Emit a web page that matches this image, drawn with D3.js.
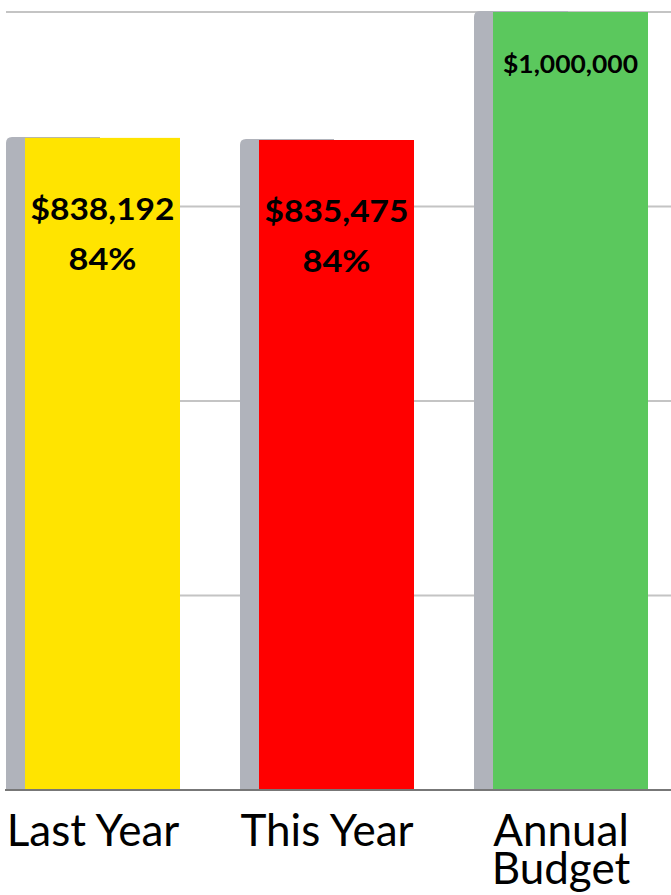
<!DOCTYPE html>
<html>
<head>
<meta charset="utf-8">
<script src="https://cdn.jsdelivr.net/npm/d3@7"></script>
<style>
html,body{margin:0;padding:0;background:#fff;}
svg{display:block;}
</style>
</head>
<body>
<svg id="chart" width="671" height="895"></svg>
<script>
const categories = ["Last Year", "This Year", "Annual Budget"];
const labelLines = [["Last Year"], ["This Year"], ["Annual", "Budget"]];
const values = [838192, 835475, 1000000];
const valueLabels = ["$838,192", "$835,475", "$1,000,000"];
const pctLabels = ["84%", "84%", ""];
const colors = ["#FFE400", "#FF0000", "#5BC85D"];
const yTicks = [0, 250000, 500000, 750000, 1000000];

const svg = d3.select("#chart");
const W = 671;

const x = d3.scaleBand().domain(categories).range([6, 648]).paddingInner(0.2564).paddingOuter(0);
const y = d3.scaleLinear().domain([0, 1000000]).range([790, 12]);

// gridlines
svg.append("g").selectAll("line").data(yTicks.filter(d => d > 0)).join("line")
  .attr("x1", 6).attr("x2", W)
  .attr("y1", d => y(d)).attr("y2", d => y(d))
  .attr("stroke", "#c4c4c4").attr("stroke-width", 2);

const shadowW = 19;
const g = svg.append("g");
categories.forEach((c, i) => {
  const x0 = x(c), bw = x.bandwidth();
  const top = y(values[i]) - 1, bot = y(0);
  const r = 6, sw = 94;
  g.append("path")
    .attr("d", `M${x0},${bot} V${top + r} Q${x0},${top} ${x0 + r},${top} H${x0 + sw} V${bot} Z`)
    .attr("fill", "#B0B3BB");
  g.append("rect")
    .attr("x", x0 + shadowW).attr("y", y(values[i]))
    .attr("width", bw - shadowW).attr("height", y(0) - y(values[i]))
    .attr("fill", colors[i]);
});

// baseline
svg.append("line").attr("x1", 5).attr("x2", W).attr("y1", y(0)).attr("y2", y(0))
  .attr("stroke", "#777").attr("stroke-width", 2);

// value labels
categories.forEach((c, i) => {
  const cx = x(c) + shadowW + (x.bandwidth() - shadowW) / 2;
  const top = y(values[i]);
  const big = pctLabels[i] !== "";
  const t = svg.append("text")
    .attr("text-anchor", "middle")
    .attr("font-family", "Lato, sans-serif").attr("font-weight", "bold")
    .attr("font-size", big ? 30 : 24)
    .attr("fill", "#000");
  t.append("tspan").attr("x", cx).attr("y", top + (big ? 82 : 61))
    .attr("textLength", big ? 144 : 135).attr("lengthAdjust", "spacingAndGlyphs")
    .text(valueLabels[i]);
  if (big) {
    t.append("tspan").attr("x", cx).attr("y", top + 132)
      .attr("textLength", 68).attr("lengthAdjust", "spacingAndGlyphs")
      .text(pctLabels[i]);
  }
});

// category labels
categories.forEach((c, i) => {
  const cx = x(c) + x.bandwidth() / 2;
  const t = svg.append("text")
    .attr("text-anchor", "middle")
    .attr("font-family", "Lato, sans-serif")
    .attr("font-size", 44)
    .attr("fill", "#000");
  labelLines[i].forEach((ln, j) => {
    t.append("tspan").attr("x", cx).attr("y", 846 + j * 38).text(ln);
  });
});
</script>
</body>
</html>
